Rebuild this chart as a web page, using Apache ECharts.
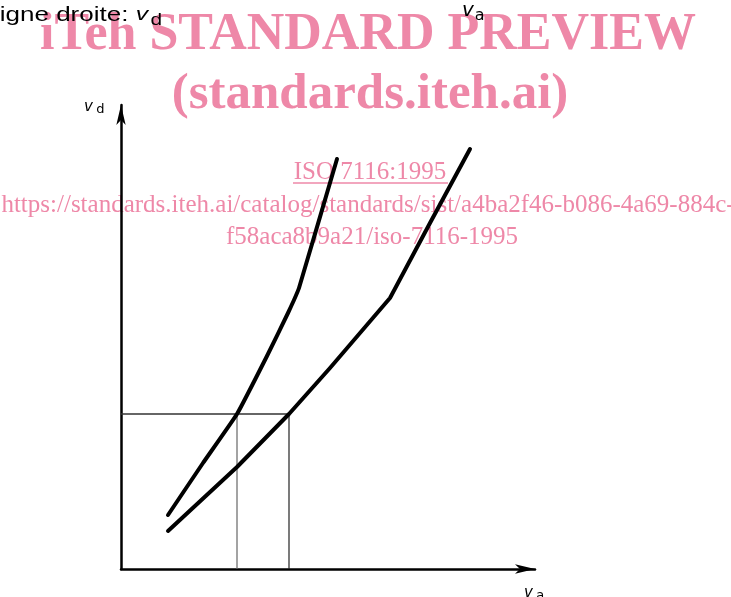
<!DOCTYPE html>
<html><head><meta charset="utf-8">
<script src="https://cdn.jsdelivr.net/npm/echarts@6/dist/echarts.min.js"></script>
<style>html,body{margin:0;padding:0;background:#fff}#c{width:731px;height:597px}</style>
</head><body><div id="c"></div>
<script>
// Abstract (unscaled) values
const xRange = [0, 414];
const yRange = [0, 464];
const steepX = [47, 82, 116, 146, 167, 173, 178, 216];
const steepY = [54, 106, 155, 213, 256, 269, 281, 410];
const flatX = [47, 116, 168, 209, 269, 309, 349];
const flatY = [38, 102, 155, 201, 271, 346, 420];
const guideLevel = 155;
const guideCuts = [116, 168];
const headerText = 'ligne droite: ';
const yName = ['v', 'd'];
const xName = ['v', 'a'];
const wmLines = ['iTeh STANDARD PREVIEW', '(standards.iteh.ai)', 'ISO 7116:1995',
  'https://standards.iteh.ai/catalog/standards/sist/a4ba2f46-b086-4a69-884c-',
  'f58aca8b9a21/iso-7116-1995'];

const pair = (xs, ys) => xs.map((x, i) => [x, ys[i]]);
const pink = '#EE88A8';
const chart = echarts.init(document.getElementById('c'));
const axisCommon = {
  type: 'value', axisTick: {show: false}, axisLabel: {show: false}, splitLine: {show: false},
  axisLine: {show: true, lineStyle: {color: '#000', width: 2.5}, symbol: ['none', 'arrow'], symbolSize: [7, 20]}
};
const curveStyle = {color: '#000', width: 4, cap: 'round', join: 'round'};
chart.setOption({
  animation: false,
  backgroundColor: '#fff',
  grid: {left: 121, top: 105, width: 414, height: 464},
  xAxis: Object.assign({min: xRange[0], max: xRange[1]}, axisCommon),
  yAxis: Object.assign({min: yRange[0], max: yRange[1]}, axisCommon),
  series: [
    {type: 'line', data: [[0, guideLevel], [guideCuts[1], guideLevel]], showSymbol: false, lineStyle: {color: '#333', width: 1.3}, z: 1},
    {type: 'line', data: [[guideCuts[0], 0], [guideCuts[0], guideLevel]], showSymbol: false, lineStyle: {color: '#666', width: 1.2}, z: 1},
    {type: 'line', data: [[guideCuts[1], 0], [guideCuts[1], guideLevel]], showSymbol: false, lineStyle: {color: '#222', width: 1.2}, z: 1},
    {type: 'line', data: pair(steepX, steepY), showSymbol: false, smooth: 0.1, lineStyle: curveStyle, z: 3},
    {type: 'line', data: pair(flatX, flatY), showSymbol: false, lineStyle: curveStyle, z: 3}
  ],
  graphic: [
    {type: 'text', x: -6, y: 1, scaleX: 1.3, z: 10, style: {text: headerText + '{v|' + yName[0] + '}{s|' + yName[1] + '}', font: '20px "Liberation Sans"', fill: '#000',
      rich: {v: {font: 'italic 19px "Liberation Sans"', fill: '#000'}, s: {font: '16px "Liberation Sans"', fill: '#000', padding: [12, 0, 0, 2]}}}},
    {type: 'text', x: 462, y: -2, z: 10, style: {text: '{v|' + xName[0] + '}{s|' + xName[1] + '}', fill: '#000',
      rich: {v: {font: 'italic 20px "DejaVu Sans"', fill: '#000'}, s: {font: '16px "DejaVu Sans"', fill: '#000', padding: [10, 0, 0, 1]}}}},
    {type: 'text', x: 84, y: 99, z: 10, style: {text: '{v|' + yName[0] + '} {s|' + yName[1] + '}', fill: '#000',
      rich: {v: {font: 'italic 15px "DejaVu Sans"', fill: '#000'}, s: {font: '13px "DejaVu Sans"', fill: '#000', padding: [4, 0, 0, 0]}}}},
    {type: 'text', x: 524, y: 585, z: 10, style: {text: '{v|' + xName[0] + '} {s|' + xName[1] + '}', fill: '#000',
      rich: {v: {font: 'italic 15px "DejaVu Sans"', fill: '#000'}, s: {font: '13px "DejaVu Sans"', fill: '#000', padding: [4, 0, 0, 0]}}}},
    {type: 'text', x: 368, y: 36, z: 0, style: {text: wmLines[0], font: 'bold 52px "Liberation Serif"', fill: pink, align: 'center', verticalAlign: 'middle'}},
    {type: 'text', x: 370, y: 95, z: 0, style: {text: wmLines[1], font: 'bold 51px "Liberation Serif"', fill: pink, align: 'center', verticalAlign: 'middle'}},
    {type: 'text', x: 370, y: 172, z: 0, style: {text: wmLines[2], font: '25px "Liberation Serif"', fill: pink, align: 'center', verticalAlign: 'middle'}},
    {type: 'line', z: 0, shape: {x1: 293, y1: 183, x2: 448, y2: 183}, style: {stroke: pink, lineWidth: 1.5}},
    {type: 'text', x: 368, y: 205, z: 0, style: {text: wmLines[3], font: '25px "Liberation Serif"', fill: pink, align: 'center', verticalAlign: 'middle'}},
    {type: 'text', x: 372, y: 237, z: 0, style: {text: wmLines[4], font: '25px "Liberation Serif"', fill: pink, align: 'center', verticalAlign: 'middle'}}
  ]
});
</script></body></html>
